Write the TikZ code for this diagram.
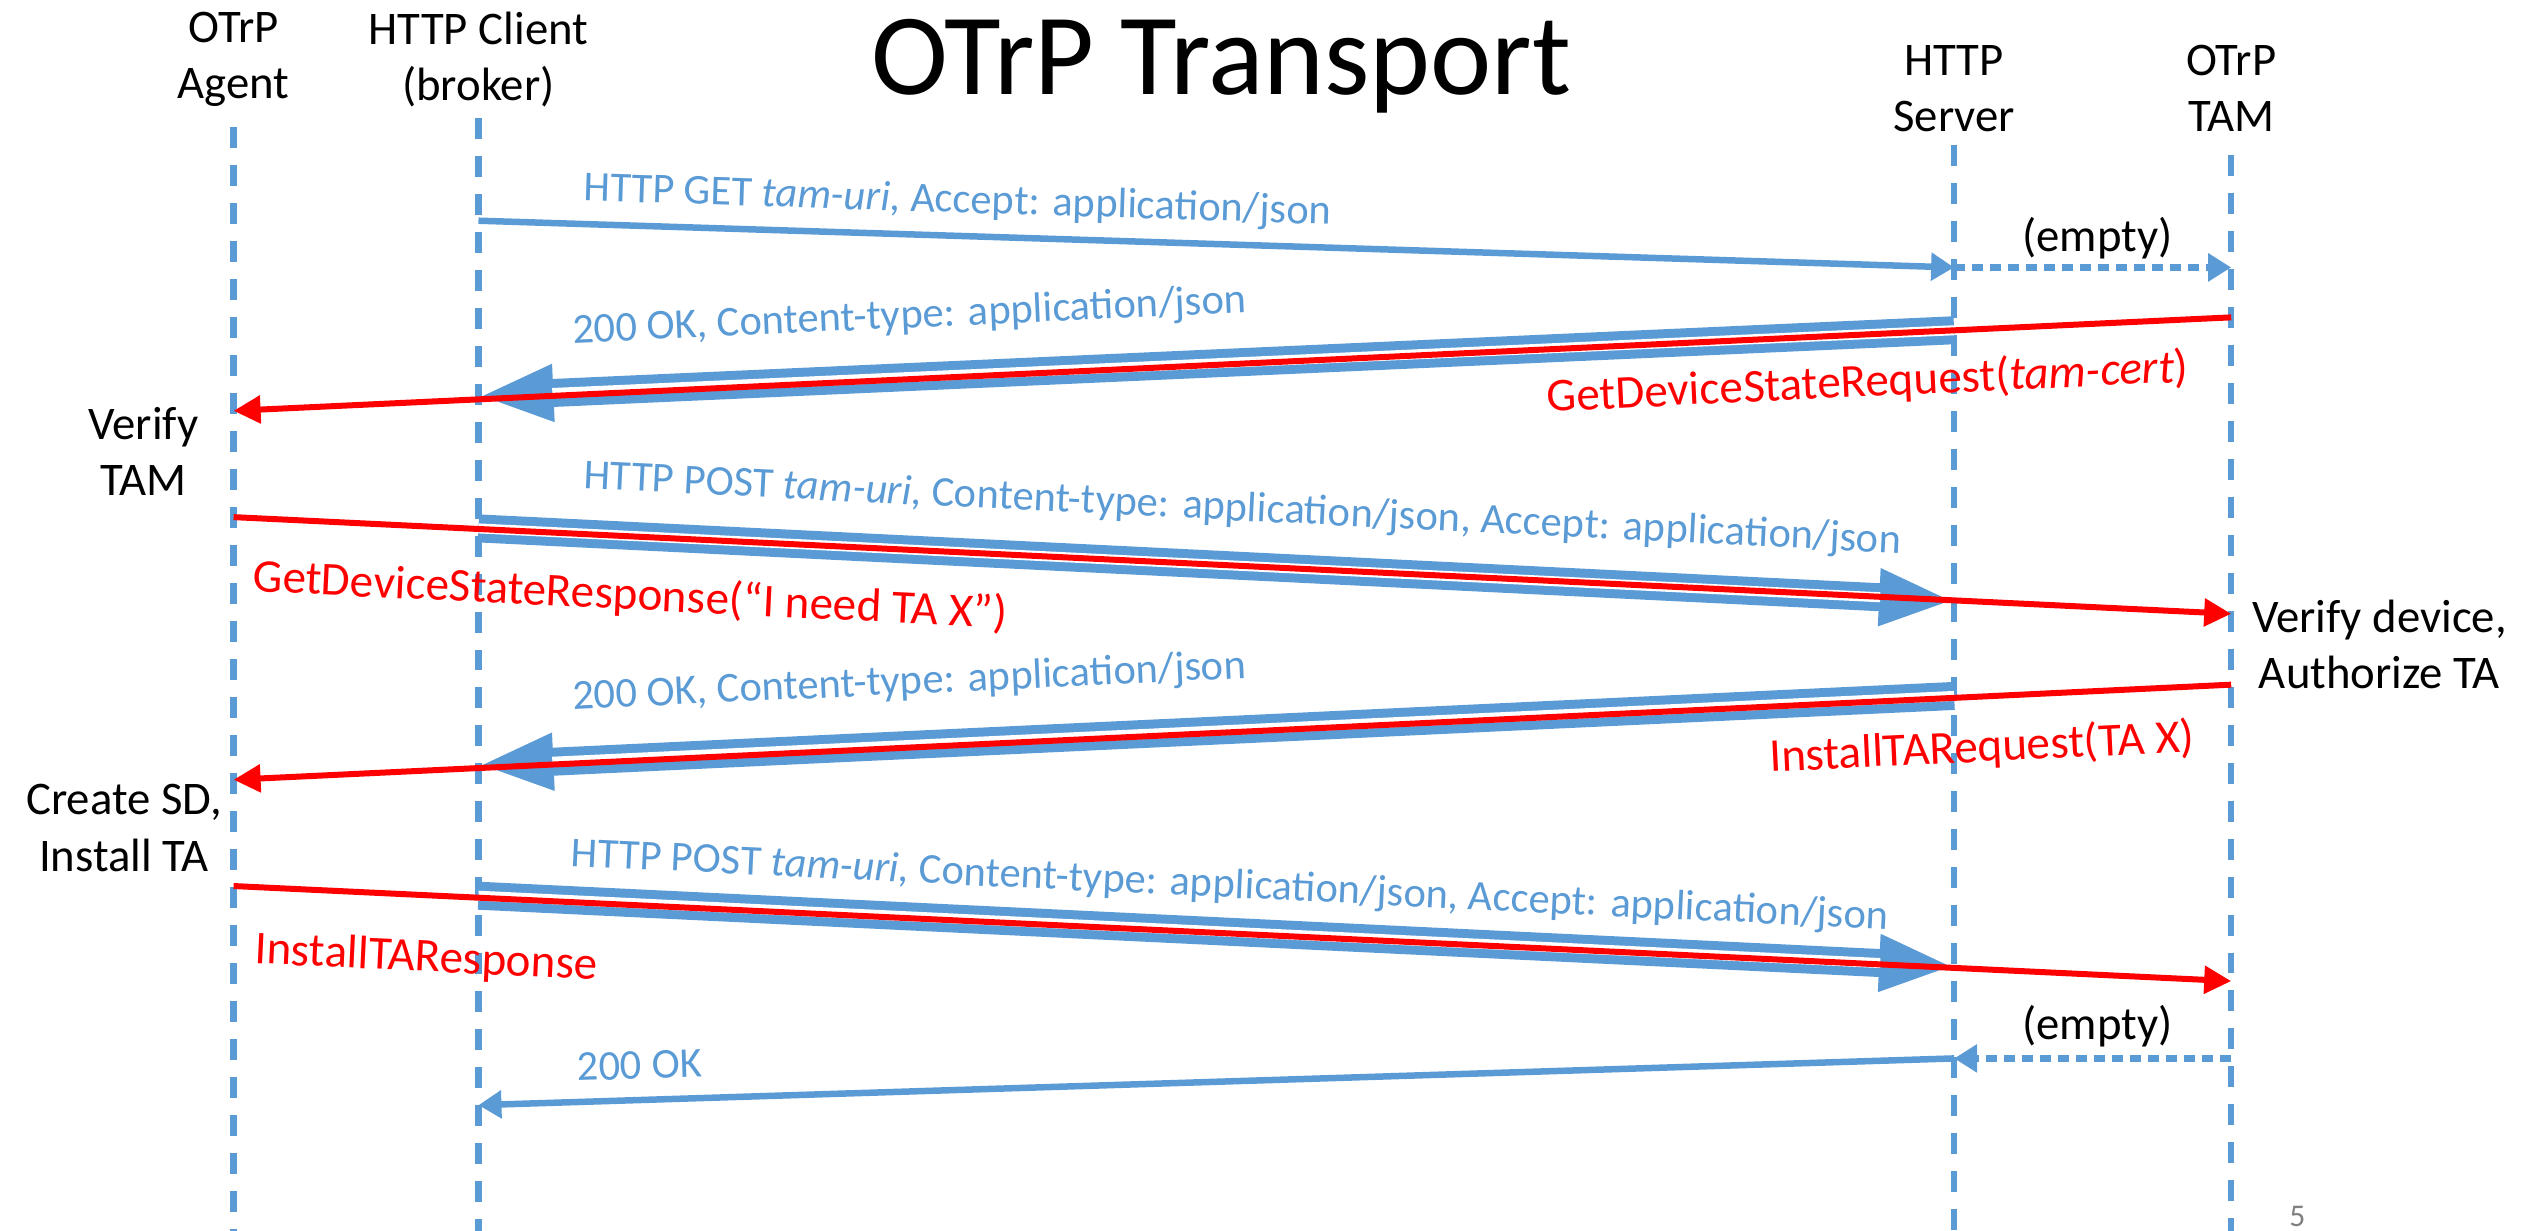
\documentclass[tikz,border=0pt]{standalone}
\usepackage{fontspec}
\setmainfont{Carlito}
\usepackage{xcolor}
\usetikzlibrary{arrows.meta}
\definecolor{msgblue}{HTML}{5B9BD5}
\definecolor{msgred}{HTML}{FF0000}
\tikzset{
  actor/.style={align=center,font=\fontsize{13.3}{16}\selectfont},
  note/.style={align=center,font=\fontsize{13.3}{16}\selectfont},
  lifeline/.style={msgblue,line width=0.065cm,dash pattern=on 0.21cm off 0.17cm},
  httpmsg/.style={msgblue,line width=0.065cm,-{Triangle[width=0.27cm,length=0.23cm]}},
  emptymsg/.style={httpmsg,dash pattern=on 0.11cm off 0.07cm},
  bigmsg/.style={msgblue,line width=0.28cm,-{Triangle[width=0.52cm,length=0.75cm]}},
  bigmsggap/.style={white,line width=0.1cm,shorten >=0.74cm},
  otrpmsg/.style={msgred,line width=0.06cm,-{Triangle[width=0.27cm,length=0.27cm]}},
  httplbl/.style={msgblue,font=\fontsize{12.1}{14}\selectfont,inner sep=0pt,text depth=0pt,sloped},
  otrplbl/.style={msgred,font=\fontsize{13.4}{16}\selectfont,inner sep=0pt,text height=8.6pt,text depth=0pt,sloped}
}
\begin{document}
\begin{tikzpicture}[x=0.01611cm,y=-0.01611cm]
  \useasboundingbox (0,0) rectangle (1568,764);

  \node[font=\fontsize{33}{40}\selectfont] at (758,41) (title) {OTrP Transport};

  \node[actor] at (145,37) (agent) {OTrP\\Agent};
  \node[actor] at (297,37) (client) {HTTP Client\\(broker)};
  \node[actor] at (1213,55) (server) {HTTP\\Server};
  \node[actor] at (1385,55) (tam) {OTrP\\TAM};

  \draw[lifeline] (agent |- 0,79) -- (agent |- 0,764);
  \draw[lifeline] (client |- 0,73) -- (client |- 0,764);
  \draw[lifeline] (server |- 0,90) -- (server |- 0,764);
  \draw[lifeline] (tam |- 0,96) -- (tam |- 0,764);

  % GET and the empty forward
  \coordinate (get0) at (client |- 0,137);
  \coordinate (get1) at (server |- 0,166);
  \coordinate (fwd1) at (tam |- 0,166);
  \draw[httpmsg] (get0) -- node[httplbl,pos=0.324,above=0.2cm] {HTTP GET \textit{tam-uri}, Accept: application/json} (get1);
  \draw[emptymsg] (get1) -- (fwd1);
  \node[note] at (1302,148) (empty1) {(empty)};

  % GetDeviceStateRequest
  \coordinate (req0) at (tam |- 0,197);
  \coordinate (req1) at (agent |- 0,255);
  \coordinate (ok0) at (server |- 0,205);
  \coordinate (ok1) at (client |- 0,246);
  \draw[bigmsg] (ok0) -- node[httplbl,pos=0.706,above=0.35cm] {200 OK, Content-type: application/json} (ok1);
  \draw[bigmsggap] (ok0) -- (ok1);
  \draw[otrpmsg] (req0) -- node[otrplbl,pos=0.183,below=0.29cm] {GetDeviceStateRequest(\textit{tam-cert})} (req1);
  \node[note] at (89,280) (vtam) {Verify\\TAM};

  % GetDeviceStateResponse
  \coordinate (rsp0) at (agent |- 0,321);
  \coordinate (rsp1) at (tam |- 0,381);
  \coordinate (post0) at (client |- 0,328);
  \coordinate (post1) at (server |- 0,373);
  \draw[bigmsg] (post0) -- node[httplbl,pos=0.516,above=0.31cm] {HTTP POST \textit{tam-uri,} Content-type: application/json, Accept: application/json} (post1);
  \draw[bigmsggap] (post0) -- (post1);
  \draw[otrpmsg] (rsp0) -- node[otrplbl,pos=0.2,below=0.40cm] {GetDeviceStateResponse(“I need TA X”)} (rsp1);
  \node[note] at (1477,400) (vdev) {Verify device,\\Authorize TA};

  % InstallTARequest
  \coordinate (ins0) at (tam |- 0,425);
  \coordinate (ins1) at (agent |- 0,484);
  \coordinate (ok2) at (server |- 0,432);
  \coordinate (ok3) at (client |- 0,475);
  \draw[bigmsg] (ok2) -- node[httplbl,pos=0.706,above=0.37cm] {200 OK, Content-type: application/json} (ok3);
  \draw[bigmsggap] (ok2) -- (ok3);
  \draw[otrpmsg] (ins0) -- node[otrplbl,pos=0.126,below=0.32cm] {InstallTARequest(TA X)} (ins1);
  \node[note] at (77,514) (csd) {Create SD,\\Install TA};

  % InstallTAResponse
  \coordinate (irs0) at (agent |- 0,550);
  \coordinate (irs1) at (tam |- 0,609);
  \coordinate (post2) at (client |- 0,556);
  \coordinate (post3) at (server |- 0,600);
  \draw[bigmsg] (post2) -- node[httplbl,pos=0.508,above=0.2cm] {HTTP POST \textit{tam-uri,} Content-type: application/json, Accept: application/json} (post3);
  \draw[bigmsggap] (post2) -- (post3);
  \draw[otrpmsg] (irs0) -- node[otrplbl,pos=0.098,below=0.43cm] {InstallTAResponse} (irs1);

  % empty reply and 200 OK
  \coordinate (end0) at (tam |- 0,657);
  \coordinate (end1) at (server |- 0,657);
  \coordinate (fin1) at (client |- 0,686);
  \draw[emptymsg] (end0) -- (end1);
  \node[note] at (1302,637) (empty2) {(empty)};
  \draw[httpmsg] (end1) -- node[httplbl,pos=0.89,above=0.18cm] {200 OK} (fin1);

  \node[text=gray,font=\fontsize{9}{10}\selectfont,anchor=south,inner sep=0pt,text depth=0pt] at (1426,762) (page) {5};
\end{tikzpicture}
\end{document}
